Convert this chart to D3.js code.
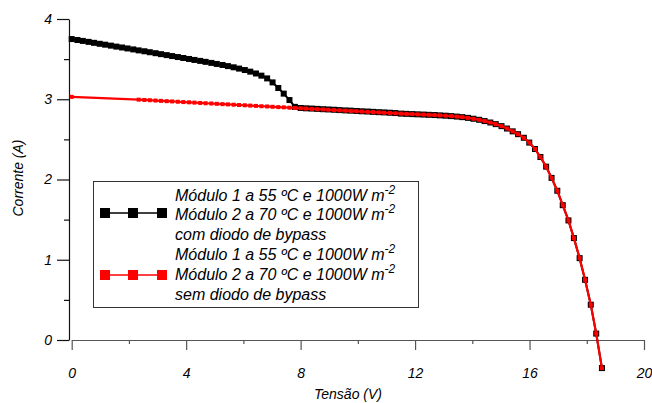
<!DOCTYPE html>
<html>
<head>
<meta charset="utf-8">
<script src="https://cdn.jsdelivr.net/npm/d3@7/dist/d3.min.js"></script>
<style>
  html, body { margin: 0; padding: 0; background: #fff; }
  svg text { font-family: "Liberation Sans", Arial, sans-serif; font-style: italic; fill: #000; }
</style>
</head>
<body>
<svg id="chart" width="652" height="403"></svg>
<script>
// Voltage sweep (V), shared by both curves
const tensao = [
  0.00, 0.20, 0.39, 0.59, 0.78, 0.98, 1.17, 1.37, 1.56, 1.76,
  1.95, 2.15, 2.34, 2.54, 2.73, 2.93, 3.12, 3.32, 3.51, 3.71,
  3.90, 4.10, 4.29, 4.49, 4.68, 4.88, 5.07, 5.27, 5.46, 5.66,
  5.85, 6.05, 6.24, 6.44, 6.63, 6.83, 7.02, 7.22, 7.41, 7.61,
  7.80, 8.00, 8.19, 8.39, 8.58, 8.78, 8.97, 9.17, 9.36, 9.56,
  9.75, 9.95, 10.14, 10.34, 10.53, 10.73, 10.92, 11.12, 11.31, 11.51,
  11.70, 11.90, 12.09, 12.29, 12.48, 12.68, 12.87, 13.07, 13.26, 13.46,
  13.65, 13.85, 14.04, 14.24, 14.43, 14.63, 14.82, 15.02, 15.21, 15.41,
  15.60, 15.80, 15.99, 16.19, 16.38, 16.58, 16.77, 16.97, 17.16, 17.36,
  17.55, 17.75, 17.94, 18.14, 18.33, 18.53
];

// Current (A) with bypass diode
const correnteComDiodo = [
  3.750, 3.738, 3.727, 3.715, 3.703, 3.691, 3.680, 3.668, 3.656, 3.645,
  3.633, 3.621, 3.609, 3.598, 3.586, 3.574, 3.562, 3.550, 3.538, 3.526,
  3.514, 3.502, 3.490, 3.478, 3.466, 3.453, 3.440, 3.427, 3.413, 3.398,
  3.382, 3.364, 3.344, 3.321, 3.294, 3.260, 3.210, 3.140, 3.070, 2.990,
  2.905, 2.891, 2.887, 2.884, 2.880, 2.876, 2.873, 2.869, 2.865, 2.861,
  2.858, 2.854, 2.850, 2.847, 2.843, 2.839, 2.836, 2.832, 2.828, 2.821,
  2.818, 2.815, 2.812, 2.809, 2.806, 2.803, 2.799, 2.795, 2.790, 2.784,
  2.777, 2.768, 2.757, 2.744, 2.728, 2.710, 2.690, 2.665, 2.635, 2.600,
  2.565, 2.520, 2.460, 2.380, 2.280, 2.160, 2.020, 1.860, 1.680, 1.490,
  1.270, 1.020, 0.750, 0.440, 0.080, -0.350
];

// Current (A) without bypass diode (no samples between 0 and 2.34 V)
const correnteSemDiodo = [
  3.030, null, null, null, null, null, null, null, null, null,
  null, null, 2.995, 2.991, 2.988, 2.984, 2.980, 2.976, 2.973, 2.969,
  2.965, 2.962, 2.958, 2.954, 2.950, 2.947, 2.943, 2.939, 2.936, 2.932,
  2.928, 2.925, 2.921, 2.917, 2.913, 2.910, 2.906, 2.902, 2.899, 2.895,
  2.891, 2.888, 2.884, 2.880, 2.876, 2.873, 2.869, 2.865, 2.862, 2.858,
  2.854, 2.851, 2.847, 2.843, 2.840, 2.836, 2.832, 2.829, 2.825, 2.821,
  2.818, 2.815, 2.812, 2.809, 2.806, 2.803, 2.799, 2.795, 2.790, 2.784,
  2.777, 2.768, 2.757, 2.744, 2.728, 2.710, 2.690, 2.665, 2.635, 2.600,
  2.565, 2.520, 2.460, 2.380, 2.280, 2.160, 2.020, 1.860, 1.680, 1.490,
  1.270, 1.020, 0.750, 0.440, 0.080, -0.350
];

const xMajor = [0, 4, 8, 12, 16, 20];
const xMinor = [2, 6, 10, 14, 18];
const yMajor = [0, 1, 2, 3, 4];
const yMinor = [0.5, 1.5, 2.5, 3.5];

const legendLabels = [
  ["Módulo 1 a 55 ºC e 1000W m", "Módulo 2 a 70 ºC e 1000W m", "com diodo de bypass"],
  ["Módulo 1 a 55 ºC e 1000W m", "Módulo 2 a 70 ºC e 1000W m", "sem diodo de bypass"]
];

const svg = d3.select("#chart");

const x = d3.scaleLinear().domain([0, 20]).range([71.7, 644]);
const y = d3.scaleLinear().domain([0, 4]).range([340, 19]);

const fmt = d3.format("d");

// X axis
const gx = svg.append("g").attr("transform", "translate(0,340)");
gx.call(d3.axisBottom(x).tickValues(xMajor).tickFormat(fmt).tickSize(10).tickSizeOuter(0).tickPadding(18));
gx.append("g").call(d3.axisBottom(x).tickValues(xMinor).tickFormat("").tickSize(4).tickSizeOuter(0))
  .select(".domain").remove();
gx.selectAll("path, line").attr("stroke", "#555").attr("stroke-width", 1.2);
gx.selectAll("text").attr("font-size", 14).attr("font-family", null);

// Y axis
const gy = svg.append("g").attr("transform", "translate(69,0)");
gy.call(d3.axisLeft(y).tickValues(yMajor).tickFormat(fmt).tickSize(12).tickSizeOuter(0).tickPadding(5));
gy.append("g").call(d3.axisLeft(y).tickValues(yMinor).tickFormat("").tickSize(5).tickSizeOuter(0))
  .select(".domain").remove();
gy.selectAll("path, line").attr("stroke", "#111").attr("stroke-width", 1.2);
gy.selectAll("text").attr("font-size", 14).attr("font-family", null);

// Axis titles
svg.append("text").attr("x", 348).attr("y", 399).attr("text-anchor", "middle")
  .attr("font-size", 14).text("Tensão (V)");
svg.append("text").attr("transform", "translate(23,178) rotate(-90)").attr("text-anchor", "middle")
  .attr("font-size", 14).text("Corrente (A)");

// Curves
const ptsCom = tensao.map((v, i) => [v, correnteComDiodo[i]]);
const ptsSem = tensao.map((v, i) => [v, correnteSemDiodo[i]]).filter(d => d[1] !== null);
const line = d3.line().x(d => x(d[0])).y(d => y(d[1]));

function drawSeries(pts, color, lw, ms) {
  const g = svg.append("g");
  g.append("path").datum(pts).attr("d", line)
    .attr("fill", "none").attr("stroke", color).attr("stroke-width", lw).attr("stroke-linejoin", "round");
  g.selectAll("rect").data(pts).join("rect")
    .attr("x", d => x(d[0]) - ms / 2).attr("y", d => y(d[1]) - ms / 2)
    .attr("width", ms).attr("height", ms).attr("fill", color);
}
drawSeries(ptsCom, "#000", 2, 6);
drawSeries(ptsSem, "#ff0000", 2.2, 4);

// Legend
const lg = svg.append("g");
lg.append("rect").attr("x", 93.5).attr("y", 181.5).attr("width", 325).attr("height", 126)
  .attr("fill", "#fff").attr("stroke", "#333").attr("stroke-width", 1);

const legendColors = ["#000", "#ff0000"];
const baselines = [[201, 220, 240], [260, 280, 300]];
const symbolY = [213, 275];
legendLabels.forEach((lines, k) => {
  lg.append("line").attr("x1", 100).attr("x2", 167).attr("y1", symbolY[k]).attr("y2", symbolY[k])
    .attr("stroke", legendColors[k]).attr("stroke-width", 1.5);
  [105, 133, 162].forEach(cx => {
    lg.append("rect").attr("x", cx - 5).attr("y", symbolY[k] - 5).attr("width", 10).attr("height", 10)
      .attr("fill", legendColors[k]);
  });
  lines.forEach((txt, j) => {
    const t = lg.append("text").attr("x", 175).attr("y", baselines[k][j]).attr("font-size", 16);
    t.append("tspan").text(txt);
    if (j < 2) {
      t.append("tspan").attr("font-size", 12).attr("dy", -7).text("-2");
    }
  });
});
</script>
</body>
</html>
